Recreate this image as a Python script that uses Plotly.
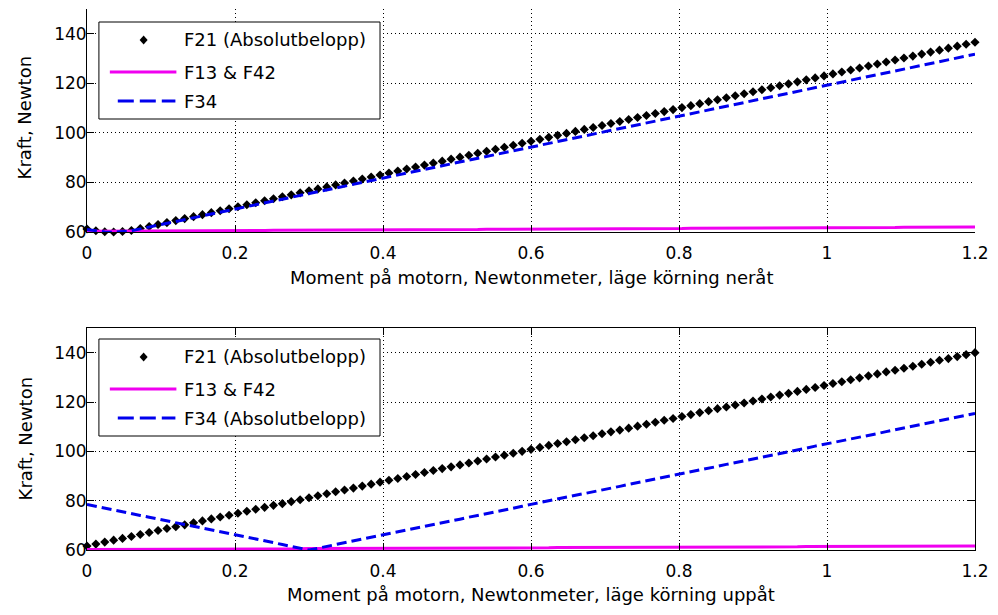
import plotly.graph_objects as go

# Motor torque samples [Nm]
MOMENT = [
    0.0, 0.012, 0.024, 0.036, 0.048, 0.06, 0.072, 0.084, 0.096, 0.108,
    0.12, 0.132, 0.144, 0.156, 0.168, 0.18, 0.192, 0.204, 0.216, 0.228,
    0.24, 0.252, 0.264, 0.276, 0.288, 0.3, 0.312, 0.324, 0.336, 0.348,
    0.36, 0.372, 0.384, 0.396, 0.408, 0.42, 0.432, 0.444, 0.456, 0.468,
    0.48, 0.492, 0.504, 0.516, 0.528, 0.54, 0.552, 0.564, 0.576, 0.588,
    0.6, 0.612, 0.624, 0.636, 0.648, 0.66, 0.672, 0.684, 0.696, 0.708,
    0.72, 0.732, 0.744, 0.756, 0.768, 0.78, 0.792, 0.804, 0.816, 0.828,
    0.84, 0.852, 0.864, 0.876, 0.888, 0.9, 0.912, 0.924, 0.936, 0.948,
    0.96, 0.972, 0.984, 0.996, 1.008, 1.02, 1.032, 1.044, 1.056, 1.068,
    1.08, 1.092, 1.104, 1.116, 1.128, 1.14, 1.152, 1.164, 1.176, 1.188,
    1.2,
]

# Forces [N], running downwards
NED_F21 = [
    61.2, 60.5, 60.1, 60.0, 60.2, 60.6, 61.4, 62.2, 63.0, 63.8,
    64.6, 65.4, 66.2, 67.0, 67.8, 68.6, 69.4, 70.2, 71.0, 71.8,
    72.6, 73.4, 74.2, 75.0, 75.8, 76.6, 77.4, 78.2, 79.0, 79.8,
    80.6, 81.4, 82.2, 83.0, 83.8, 84.6, 85.4, 86.2, 87.0, 87.8,
    88.6, 89.4, 90.2, 91.0, 91.8, 92.6, 93.4, 94.2, 95.0, 95.8,
    96.6, 97.4, 98.2, 99.0, 99.8, 100.6, 101.4, 102.2, 103.0, 103.8,
    104.6, 105.4, 106.2, 107.0, 107.8, 108.6, 109.4, 110.2, 111.0, 111.8,
    112.6, 113.4, 114.2, 115.0, 115.8, 116.6, 117.4, 118.2, 119.0, 119.8,
    120.6, 121.4, 122.2, 123.0, 123.8, 124.6, 125.4, 126.2, 127.0, 127.8,
    128.6, 129.4, 130.2, 131.0, 131.8, 132.6, 133.4, 134.2, 135.0, 135.8,
    136.6,
]
NED_F13_F42 = [
    60.3, 60.3, 60.3, 60.4, 60.4, 60.4, 60.4, 60.4, 60.4, 60.5,
    60.5, 60.5, 60.5, 60.5, 60.5, 60.6, 60.6, 60.6, 60.6, 60.6,
    60.6, 60.7, 60.7, 60.7, 60.7, 60.7, 60.7, 60.8, 60.8, 60.8,
    60.8, 60.8, 60.8, 60.9, 60.9, 60.9, 60.9, 60.9, 60.9, 61.0,
    61.0, 61.0, 61.0, 61.0, 61.0, 61.1, 61.1, 61.1, 61.1, 61.1,
    61.1, 61.2, 61.2, 61.2, 61.2, 61.2, 61.3, 61.3, 61.3, 61.3,
    61.3, 61.3, 61.4, 61.4, 61.4, 61.4, 61.4, 61.4, 61.5, 61.5,
    61.5, 61.5, 61.5, 61.5, 61.6, 61.6, 61.6, 61.6, 61.6, 61.6,
    61.7, 61.7, 61.7, 61.7, 61.7, 61.7, 61.8, 61.8, 61.8, 61.8,
    61.8, 61.8, 61.9, 61.9, 61.9, 61.9, 61.9, 61.9, 62.0, 62.0,
    62.0,
]
NED_F34 = [
    61.0, 60.4, 60.0, 59.9, 60.1, 60.5, 61.25, 62.0, 62.75, 63.5,
    64.25, 65.0, 65.75, 66.5, 67.25, 68.0, 68.75, 69.5, 70.25, 71.0,
    71.75, 72.5, 73.25, 74.0, 74.75, 75.5, 76.25, 77.0, 77.75, 78.5,
    79.25, 80.0, 80.75, 81.5, 82.25, 83.0, 83.75, 84.5, 85.25, 86.0,
    86.75, 87.5, 88.25, 89.0, 89.75, 90.5, 91.25, 92.0, 92.75, 93.5,
    94.25, 95.0, 95.75, 96.5, 97.25, 98.0, 98.75, 99.5, 100.25, 101.0,
    101.75, 102.5, 103.25, 104.0, 104.75, 105.5, 106.25, 107.0, 107.75, 108.5,
    109.25, 110.0, 110.75, 111.5, 112.25, 113.0, 113.75, 114.5, 115.25, 116.0,
    116.75, 117.5, 118.25, 119.0, 119.75, 120.5, 121.25, 122.0, 122.75, 123.5,
    124.25, 125.0, 125.75, 126.5, 127.25, 128.0, 128.75, 129.5, 130.25, 131.0,
    131.75,
]

# Forces [N], running upwards
UPP_F21 = [
    61.6, 62.4, 63.2, 64.0, 64.7, 65.5, 66.3, 67.1, 67.9, 68.7,
    69.4, 70.2, 71.0, 71.8, 72.6, 73.4, 74.1, 74.9, 75.7, 76.5,
    77.3, 78.1, 78.8, 79.6, 80.4, 81.2, 82.0, 82.8, 83.6, 84.3,
    85.1, 85.9, 86.7, 87.5, 88.3, 89.0, 89.8, 90.6, 91.4, 92.2,
    93.0, 93.7, 94.5, 95.3, 96.1, 96.9, 97.7, 98.4, 99.2, 100.0,
    100.8, 101.6, 102.4, 103.2, 103.9, 104.7, 105.5, 106.3, 107.1, 107.9,
    108.6, 109.4, 110.2, 111.0, 111.8, 112.6, 113.3, 114.1, 114.9, 115.7,
    116.5, 117.3, 118.0, 118.8, 119.6, 120.4, 121.2, 122.0, 122.8, 123.5,
    124.3, 125.1, 125.9, 126.7, 127.5, 128.2, 129.0, 129.8, 130.6, 131.4,
    132.2, 132.9, 133.7, 134.5, 135.3, 136.1, 136.9, 137.6, 138.4, 139.2,
    140.0,
]
UPP_F13_F42 = [
    60.2, 60.2, 60.2, 60.2, 60.3, 60.3, 60.3, 60.3, 60.3, 60.3,
    60.3, 60.4, 60.4, 60.4, 60.4, 60.4, 60.4, 60.4, 60.5, 60.5,
    60.5, 60.5, 60.5, 60.5, 60.5, 60.6, 60.6, 60.6, 60.6, 60.6,
    60.6, 60.6, 60.7, 60.7, 60.7, 60.7, 60.7, 60.7, 60.7, 60.8,
    60.8, 60.8, 60.8, 60.8, 60.8, 60.8, 60.9, 60.9, 60.9, 60.9,
    60.9, 60.9, 60.9, 61.0, 61.0, 61.0, 61.0, 61.0, 61.0, 61.0,
    61.1, 61.1, 61.1, 61.1, 61.1, 61.1, 61.1, 61.2, 61.2, 61.2,
    61.2, 61.2, 61.2, 61.2, 61.3, 61.3, 61.3, 61.3, 61.3, 61.3,
    61.3, 61.4, 61.4, 61.4, 61.4, 61.4, 61.4, 61.4, 61.5, 61.5,
    61.5, 61.5, 61.5, 61.5, 61.5, 61.6, 61.6, 61.6, 61.6, 61.6,
    61.6,
]
UPP_F34 = [
    78.5, 77.7, 77.0, 76.2, 75.5, 74.8, 74.0, 73.3, 72.5, 71.8,
    71.1, 70.3, 69.6, 68.9, 68.1, 67.4, 66.6, 65.9, 65.2, 64.4,
    63.7, 63.0, 62.2, 61.5, 60.7, 60.0, 60.7, 61.5, 62.2, 63.0,
    63.7, 64.4, 65.2, 65.9, 66.6, 67.4, 68.1, 68.9, 69.6, 70.3,
    71.1, 71.8, 72.5, 73.3, 74.0, 74.8, 75.5, 76.2, 77.0, 77.7,
    78.5, 79.2, 79.9, 80.7, 81.4, 82.1, 82.9, 83.6, 84.4, 85.1,
    85.8, 86.6, 87.3, 88.0, 88.8, 89.5, 90.3, 91.0, 91.7, 92.5,
    93.2, 93.9, 94.7, 95.4, 96.2, 96.9, 97.6, 98.4, 99.1, 99.9,
    100.6, 101.3, 102.1, 102.8, 103.5, 104.3, 105.0, 105.8, 106.5, 107.2,
    108.0, 108.7, 109.4, 110.2, 110.9, 111.7, 112.4, 113.1, 113.9, 114.6,
    115.4,
]

X_TICKS = [0, 0.2, 0.4, 0.6, 0.8, 1, 1.2]
X_TICK_TEXT = ["0", "0.2", "0.4", "0.6", "0.8", "1", "1.2"]
Y_TICKS = [60, 80, 100, 120, 140]
Y_TICK_TEXT = ["60", "80", "100", "120", "140"]

LEGEND_NED = ["F21 (Absolutbelopp)", "F13 & F42", "F34"]
LEGEND_UPP = ["F21 (Absolutbelopp)", "F13 & F42", "F34 (Absolutbelopp)"]
X_TITLE_NED = "Moment på motorn, Newtonmeter, läge körning neråt"
X_TITLE_UPP = "Moment på motorn, Newtonmeter, läge körning uppåt"
Y_TITLE = "Kraft, Newton"

BLACK = "#000000"
MAGENTA = "#f000f0"
BLUE = "#0000ee"
FONT = "DejaVu Sans"

W, H = 998, 615
M_L, M_R, M_T, M_B = 87, 17, 9, 65
PW = W - M_L - M_R
PH = H - M_T - M_B


def px(x):
    """Pixel column -> paper x."""
    return (x - M_L) / PW


def py(y):
    """Pixel row -> paper y."""
    return (H - M_B - y) / PH


fig = go.Figure()

panels = [
    # (x axis, y axis, F21, F13&F42, F34, legend labels, legend top px, x title, title row px)
    ("x", "y", NED_F21, NED_F13_F42, NED_F34, LEGEND_NED, 22, X_TITLE_NED, 277),
    ("x2", "y2", UPP_F21, UPP_F13_F42, UPP_F34, LEGEND_UPP, 339, X_TITLE_UPP, 594),
]

shapes = []
annotations = []

for xa, ya, f21, f13, f34, labels, leg_top, xtitle, xtitle_y in panels:
    fig.add_trace(go.Scatter(
        x=MOMENT, y=f21, mode="markers", xaxis=xa, yaxis=ya,
        marker=dict(symbol="diamond", size=7, color=BLACK, line=dict(width=0)),
        cliponaxis=False, showlegend=False, name=labels[0]))
    fig.add_trace(go.Scatter(
        x=MOMENT, y=f13, mode="lines", xaxis=xa, yaxis=ya,
        line=dict(color=MAGENTA, width=3), showlegend=False, name=labels[1]))
    fig.add_trace(go.Scatter(
        x=MOMENT, y=f34, mode="lines", xaxis=xa, yaxis=ya,
        line=dict(color=BLUE, width=3, dash="10px,5px"),
        showlegend=False, name=labels[2]))

    # legend box
    leg_bottom = leg_top + 97
    shapes.append(dict(type="rect", xref="paper", yref="paper", layer="above",
                       x0=px(99), x1=px(382), y0=py(leg_bottom), y1=py(leg_top),
                       line=dict(color=BLACK, width=1), fillcolor="white"))
    rows = [leg_top + 18, leg_top + 50, leg_top + 79]
    shapes.append(dict(type="path", xref="paper", yref="paper", layer="above",
                       xsizemode="pixel", ysizemode="pixel",
                       xanchor=px(144), yanchor=py(rows[0]),
                       path="M -4 0 L 0 4.5 L 4 0 L 0 -4.5 Z",
                       fillcolor=BLACK, line=dict(width=0)))
    shapes.append(dict(type="line", xref="paper", yref="paper", layer="above",
                       x0=px(110), x1=px(177), y0=py(rows[1]), y1=py(rows[1]),
                       line=dict(color=MAGENTA, width=3)))
    shapes.append(dict(type="line", xref="paper", yref="paper", layer="above",
                       x0=px(118), x1=px(176), y0=py(rows[2]), y1=py(rows[2]),
                       line=dict(color=BLUE, width=3, dash="16px,6px")))
    for label, r in zip(labels, rows):
        annotations.append(dict(text=label, xref="paper", yref="paper",
                                x=px(183), y=py(r), xanchor="left", yanchor="middle",
                                showarrow=False, font=dict(family=FONT, size=18, color=BLACK)))

    annotations.append(dict(text=xtitle, xref="paper", yref="paper",
                            x=0.5, y=py(xtitle_y), xanchor="center", yanchor="middle",
                            showarrow=False, font=dict(family=FONT, size=18, color=BLACK)))

# y-axis titles
for y_center in (117, 438):
    annotations.append(dict(text=Y_TITLE, xref="paper", yref="paper",
                            x=px(25), y=py(y_center), xanchor="center", yanchor="middle",
                            textangle=-90, showarrow=False,
                            font=dict(family=FONT, size=18, color=BLACK)))

axis_common = dict(
    showline=True, linecolor=BLACK, linewidth=1,
    ticks="inside", ticklen=7, tickwidth=1, tickcolor=BLACK,
    showgrid=True, gridcolor=BLACK, gridwidth=1, griddash="1px,3px",
    zeroline=False, tickfont=dict(family=FONT, size=17, color=BLACK),
)
x_common = dict(domain=[0, 1], range=[0, 1.2], tickvals=X_TICKS, ticktext=X_TICK_TEXT,
                ticklabelstandoff=6, **axis_common)
y_common = dict(range=[60, 150], tickvals=Y_TICKS, ticktext=Y_TICK_TEXT,
                ticklabelstandoff=-4, **axis_common)

fig.update_layout(
    width=W, height=H,
    margin=dict(l=M_L, r=M_R, t=M_T, b=M_B),
    paper_bgcolor="white", plot_bgcolor="white",
    showlegend=False,
    xaxis=dict(anchor="y", mirror=False, **x_common),
    yaxis=dict(domain=[py(232), py(9)], anchor="x", mirror=False, **y_common),
    xaxis2=dict(anchor="y2", mirror="ticks", **x_common),
    yaxis2=dict(domain=[py(550), py(328)], anchor="x2", mirror="ticks", **y_common),
    shapes=shapes,
    annotations=annotations,
)

fig.write_html("out.html")
